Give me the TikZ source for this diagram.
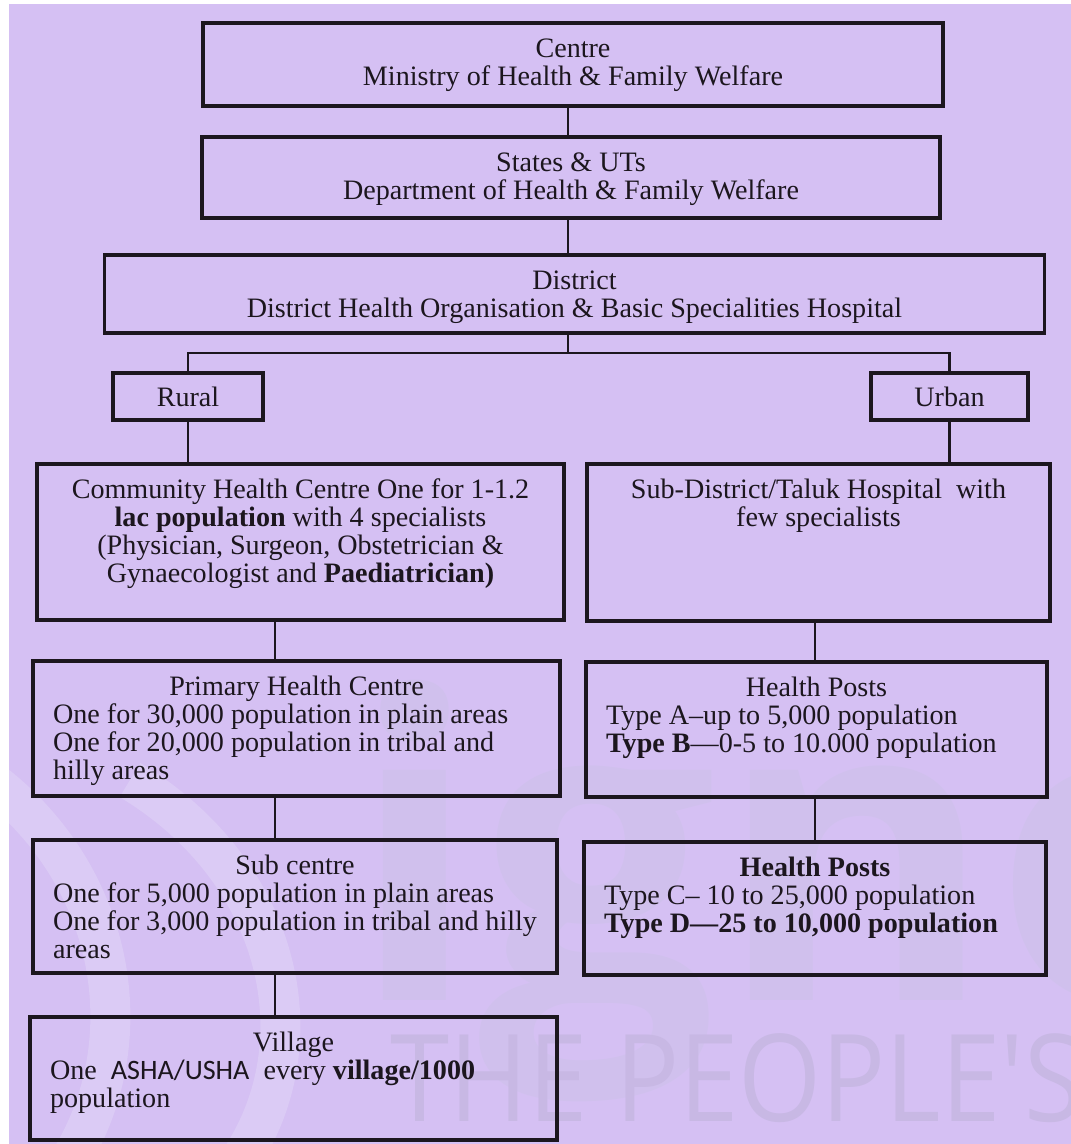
\documentclass[tikz,border=0pt]{standalone}
\usepackage{fontspec}
\setmainfont{Liberation Serif}
\setsansfont{Carlito}
\newfontfamily\marcafont{Open Sans}
\usetikzlibrary{positioning}

% texto de caja, arriba
\newcommand{\boxtext}[3]{\parbox[c][#2][t]{#1}{\rule{0pt}{0.69cm}#3}}

\begin{document}
\begin{tikzpicture}[x=0.02cm,y=-0.02cm,
    box/.style={draw=ink,line width=1.8pt,inner xsep=0.4cm,inner ysep=0pt,
      text=ink,font=\fontsize{16}{15.9}\selectfont},
    link/.style={draw=ink,line width=1.3pt},
    marca/.style={inner sep=0pt,anchor=base west}]
    %colores
    \definecolor{lav}{RGB}{213,192,243}
    \definecolor{ink}{RGB}{28,22,30}
    \definecolor{wmark}{RGB}{200,184,228}
    \definecolor{wlogo}{RGB}{219,203,245}
    \definecolor{wletra}{RGB}{208,192,237}

    % fondo
    \fill[white] (0,0) rectangle (1071,1144);
    \fill[lav] (9,4) rectangle (1071,1144);
    \useasboundingbox (0,0) rectangle (1071,1144);

    % marca de agua
    \begin{scope}
        \clip (9,4) rectangle (1071,1144);
        \draw[wlogo,line width=0.8cm] (-40,760) .. controls (110,850) and (150,1030) .. (70,1160);
        \draw[wlogo,line width=0.8cm] (130,780) .. controls (280,870) and (320,1040) .. (240,1160);
        \node[marca,text=wletra,font=\marcafont\bfseries\fontsize{240}{240}\selectfont] (wmark1) at (350,1000) {ignou};
        \node[marca,text=wmark,font=\marcafont\fontsize{69}{69}\selectfont] (wmark2) at (390,1121) {\scalebox{0.88}[1]{THE PEOPLE'S}};
    \end{scope}

    % niveles
    \node[box] (centre) at (573,64.5) {\boxtext{14cm}{1.66cm}{\centering Centre\\ Ministry of Health \& Family Welfare}};
    \node[box] (states) at (571,177.5) {\boxtext{13.96cm}{1.62cm}{\centering States \& UTs\\ Department of Health \& Family Welfare}};
    \node[box] (district) at (574.5,294) {\boxtext{18.02cm}{1.56cm}{\centering District\\ District Health Organisation \& Basic Specialities Hospital}};
    \node[box,minimum width=3cm,minimum height=0.94cm] (rural) at (188,396.5) {Rural};
    \node[box,minimum width=3.14cm,minimum height=0.94cm] (urban) at (949.5,396.5) {Urban};

    \node[box] (chc) at (300.5,542) {\boxtext{9.74cm}{3.12cm}{\centering Community Health Centre One for 1-1.2\\
        \textbf{lac population} with 4 specialists\\ (Physician, Surgeon, Obstetrician \&\\
        Gynaecologist and \textbf{Paediatrician)}}};
    \node[box] (subdist) at (818.5,542.5) {\boxtext{8.46cm}{3.14cm}{\centering Sub-District/Taluk Hospital\ \ with\\ few specialists}};

    \node[box] (phc) at (296.5,728.5) {\boxtext{9.74cm}{2.7cm}{\centering Primary Health Centre\par\raggedright
        One for 30,000 population in plain areas\\ One for 20,000 population in tribal and\\ hilly areas}};
    \node[box] (hpab) at (816.5,729.5) {\boxtext{8.42cm}{2.7cm}{\centering Health Posts\par\raggedright
        Type A--up to 5,000 population\\ \textbf{Type B}---0-5 to 10.000 population}};

    \node[box] (subc) at (295,906.5) {\boxtext{9.68cm}{2.66cm}{\centering Sub centre\par\raggedright
        One for 5,000 population in plain areas\\ One for 3,000 population in tribal and hilly\\ areas}};
    \node[box] (hpcd) at (815,908.5) {\boxtext{8.44cm}{2.66cm}{\centering\textbf{Health Posts}\par\raggedright
        Type C-- 10 to 25,000 population\\ \textbf{Type D---25 to 10,000 population}}};

    \node[box] (village) at (293.5,1078.5) {\boxtext{9.74cm}{2.46cm}{\centering Village\par\raggedright
        One\ \ {\sffamily ASHA/USHA}\ \ every \textbf{village/1000}\\ population}};

    % lineas
    \coordinate (trunk) at (568,0);
    \coordinate (split) at (568,353);
    \coordinate (lefttrunk) at (275,0);
    \coordinate (righttrunk) at (815,0);
    \draw[link] (centre.south -| trunk) -- (states.north -| trunk);
    \draw[link] (states.south -| trunk) -- (district.north -| trunk);
    \draw[link] (district.south -| trunk) -- (split);
    \draw[link] (rural.north) |- (split) -| (urban.north);
    \draw[link] (rural.south) -- (chc.north -| rural.south);
    \draw[link] (urban.south) -- (subdist.north -| urban.south);
    \draw[link] (chc.south -| lefttrunk) -- (phc.north -| lefttrunk);
    \draw[link] (phc.south -| lefttrunk) -- (subc.north -| lefttrunk);
    \draw[link] (subc.south -| lefttrunk) -- (village.north -| lefttrunk);
    \draw[link] (subdist.south -| righttrunk) -- (hpab.north -| righttrunk);
    \draw[link] (hpab.south -| righttrunk) -- (hpcd.north -| righttrunk);
\end{tikzpicture}
\end{document}
